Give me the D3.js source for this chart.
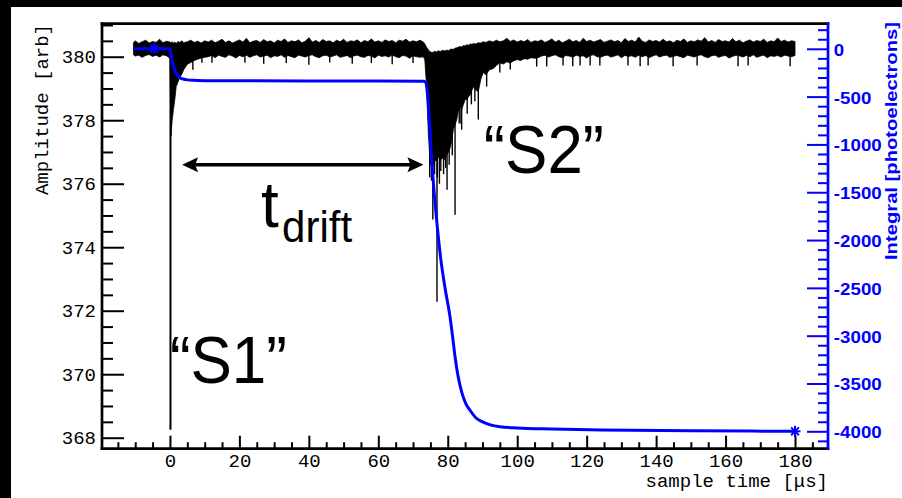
<!DOCTYPE html>
<html>
<head>
<meta charset="utf-8">
<script src="https://cdn.jsdelivr.net/npm/d3@7"></script>
<style>
  body { margin: 0; background: #000; }
  svg { display: block; }
</style>
</head>
<body>
<div id="chart"></div>
<script>
// ---- waveform envelope (time in us, amplitude in arb) ----
const waveT = [
  -10.5, -10, -9, -8, -7, -6, -5, -4, -3, -2, -1, 0,
  0.3, 0.6, 1.0, 1.4, 1.8, 2.3, 2.8, 3.4, 4, 5, 6, 7, 8, 9, 10,
  11, 12, 13, 14, 15, 16, 17, 18, 19, 20,
  21, 22, 23, 24, 25, 26, 27, 28, 29, 30,
  31, 32, 33, 34, 35, 36, 37, 38, 39, 40,
  41, 42, 43, 44, 45, 46, 47, 48, 49, 50,
  51, 52, 53, 54, 55, 56, 57, 58, 59, 60,
  61, 62, 63, 64, 65, 66, 67, 68, 69, 70,
  71, 72,
  73, 73.4, 73.9, 74.4, 74.9, 75.4, 75.8, 76.3, 76.8, 77.3,
  77.8, 78.5, 79.2, 79.7, 80.2, 80.6, 81.1, 81.6, 82.1, 82.6,
  83.0, 83.5, 84.0, 84.5, 85.0, 85.5, 86.0, 86.5, 87.0, 87.5,
  88.0, 88.8, 89.5, 90.2, 91, 92, 93, 94, 95, 96,
  97, 98, 99, 100, 101, 102, 103, 104, 105,
  106, 107, 108, 109, 110, 111, 112, 113, 114, 115,
  116, 117, 118, 119, 120, 121, 122, 123, 124, 125,
  126, 127, 128, 129, 130, 131, 132, 133, 134, 135,
  136, 137, 138, 139, 140, 141, 142, 143, 144, 145,
  146, 147, 148, 149, 150, 151, 152, 153, 154, 155,
  156, 157, 158, 159, 160, 161, 162, 163, 164, 165,
  166, 167, 168, 169, 170, 171, 172, 173, 174, 175,
  176, 177, 178, 179, 180
];
const waveHi = [
  380.44, 380.50, 380.42, 380.47, 380.52, 380.43, 380.48, 380.45, 380.55, 380.44, 380.49, 380.46,
  380.44, 380.47, 380.43, 380.46, 380.42, 380.48, 380.45, 380.50, 380.44, 380.47, 380.52, 380.45, 380.49, 380.43, 380.50,
  380.46, 380.52, 380.44, 380.49, 380.55, 380.45, 380.50, 380.43, 380.48, 380.53,
  380.46, 380.58, 380.44, 380.49, 380.51, 380.45, 380.54, 380.47, 380.50, 380.43,
  380.52, 380.48, 380.56, 380.45, 380.50, 380.47, 380.53, 380.44, 380.49, 380.60,
  380.46, 380.51, 380.45, 380.54, 380.48, 380.50, 380.44, 380.52, 380.47, 380.55,
  380.45, 380.50, 380.48, 380.53, 380.44, 380.51, 380.47, 380.56, 380.46, 380.50,
  380.45, 380.53, 380.48, 380.51, 380.44, 380.52, 380.49, 380.55, 380.46, 380.50,
  380.47, 380.52,
  380.46, 380.40, 380.30, 380.22, 380.16, 380.13, 380.14, 380.17, 380.15, 380.19,
  380.16, 380.20, 380.18, 380.21, 380.19, 380.22, 380.24, 380.23, 380.27, 380.28,
  380.30, 380.32, 380.31, 380.35, 380.34, 380.38, 380.36, 380.40, 380.39, 380.42,
  380.40, 380.44, 380.43, 380.47, 380.45, 380.50, 380.46, 380.52, 380.47, 380.50,
  380.58, 380.48, 380.53, 380.46, 380.51, 380.47, 380.54, 380.45, 380.50,
  380.48, 380.53, 380.45, 380.50, 380.56, 380.46, 380.52, 380.44, 380.49, 380.55,
  380.47, 380.51, 380.45, 380.58, 380.48, 380.52, 380.46, 380.50, 380.54, 380.45,
  380.49, 380.53, 380.47, 380.51, 380.44, 380.57, 380.48, 380.52, 380.46, 380.62,
  380.49, 380.45, 380.53, 380.48, 380.51, 380.46, 380.55, 380.47, 380.50, 380.44,
  380.52, 380.48, 380.56, 380.45, 380.50, 380.47, 380.53, 380.49, 380.60, 380.46,
  380.51, 380.45, 380.54, 380.48, 380.50, 380.46, 380.57, 380.47, 380.52, 380.44,
  380.49, 380.53, 380.46, 380.51, 380.48, 380.55, 380.45, 380.50, 380.47, 380.59,
  380.48, 380.52, 380.46, 380.50, 380.48
];
const waveLo = [
  380.06, 380.02, 380.05, 379.98, 380.04, 380.07, 380.01, 380.05, 379.99, 380.06, 380.03, 379.95,
  377.50, 377.95, 378.33, 378.65, 379.06, 379.20, 379.34, 379.45, 379.60, 379.76, 379.82, 379.88, 379.92, 379.96, 379.98,
  380.00, 380.04, 379.97, 380.05, 380.01, 379.98, 380.06, 380.02, 379.96, 380.04,
  380.00, 380.05, 379.98, 380.03, 380.06, 379.99, 380.02, 380.05, 379.97, 380.03,
  380.01, 380.06, 379.98, 380.04, 380.00, 379.97, 380.05, 380.02, 379.99, 380.04,
  380.06, 380.00, 379.97, 380.03, 380.05, 379.99, 380.02, 380.06, 379.98, 380.01,
  380.04, 379.97, 380.03, 380.05, 380.00, 379.98, 380.04, 380.02, 379.96, 380.05,
  380.01, 380.03, 379.99, 380.06, 380.00, 379.97, 380.04, 380.02, 379.95, 380.03,
  380.00, 379.98,
  380.00, 379.90, 379.06, 377.60, 376.70, 376.50, 376.60, 376.75, 376.70, 376.85,
  376.75, 376.80, 376.75, 376.90, 377.00, 377.10, 377.32, 377.70, 377.86, 378.02,
  378.27, 378.43, 378.33, 378.49, 378.65, 378.65, 378.74, 378.80, 378.96, 379.06,
  378.96, 378.90, 379.28, 379.50, 379.43, 379.59, 379.62, 379.72, 379.81, 379.77,
  379.84, 379.80, 379.87, 379.91, 379.88, 379.94, 379.92, 379.97, 379.95,
  379.97, 380.02, 380.05, 379.99, 380.03, 380.06, 380.00, 379.97, 380.04, 380.02,
  379.98, 380.05, 380.01, 380.03, 379.96, 380.04, 380.06, 380.00, 379.98, 380.03,
  380.05, 379.99, 380.02, 380.06, 379.97, 380.04, 380.01, 380.03, 379.98, 380.05,
  380.00, 380.04, 379.97, 380.02, 380.06, 379.99, 380.03, 380.05, 379.98, 380.01,
  380.04, 380.00, 379.97, 380.05, 380.02, 379.99, 380.04, 380.06, 380.00, 379.97,
  380.03, 380.05, 379.98, 380.02, 380.04, 379.96, 380.01, 380.05, 380.03, 379.99,
  380.04, 380.00, 380.06, 379.98, 380.02, 380.05, 379.97, 380.03, 380.01, 380.04,
  379.99, 380.05, 380.02, 380.00, 380.04
];

// single-sample spikes that reach below the envelope
const spikeT = [0.15, 3.7, 6.6, 9.2, 12.1, 21.6, 27, 33.5, 40, 46, 52.5, 58, 64, 70,
  74.8, 75.3, 75.7, 76.2, 76.9, 77.0, 77.6, 78.0, 78.8, 79.4, 79.8, 80.4, 81.3, 82.1,
  83.3, 83.8, 84.0, 85.6, 86.8, 87.8, 88.8, 91.2, 95.0, 98.0, 105.6, 108.5,
  113.2, 116, 118.1, 121, 123.8, 131.9, 135.4, 137.7, 144.9, 151.8, 163.6, 166.5, 178.6];
const spikeMin = [368.25, 379.69, 379.59, 379.81, 379.81, 379.81, 379.78, 379.80, 379.75, 379.82, 379.78, 379.80, 379.76, 379.80,
  376.2, 376.1, 374.87, 376.3, 372.28, 376.2, 376.0, 376.4, 376.3, 376.5, 375.81, 376.6, 376.9, 375.02,
  377.9, 377.9, 377.70, 378.2, 378.5, 378.6, 378.02, 379.06, 379.5, 379.6, 379.69, 379.69,
  379.72, 379.7, 379.72, 379.72, 379.72, 379.72, 379.70, 379.72, 379.70, 379.72, 379.70, 379.72, 379.70];

// running integral (photoelectrons)
const integT = [-10.5, 0, 0.3, 0.6, 1.0, 1.4, 2.0, 3.0, 4.0, 5.0, 6.6, 10, 20, 40, 60, 73,
  73.5, 74.0, 74.4, 74.7, 75.2, 75.8, 76.8, 78, 79.3, 80.6, 81.4, 82.1, 83, 84.1, 85.2, 86.4,
  88, 90.2, 92.5, 95, 100, 110, 124, 150, 180];
const integV = [0, 0, -60, -120, -180, -225, -270, -305, -318, -325, -330, -333, -335, -336, -338, -340,
  -345, -420, -580, -750, -1060, -1370, -1790, -2200, -2520, -2790, -3010, -3220, -3430, -3600, -3710, -3780,
  -3855, -3905, -3935, -3952, -3965, -3976, -3986, -3994, -4000];
const starT = [-4.6, 180];
const starV = [0, -4000];

// axis ticks
const xMajor = [0, 20, 40, 60, 80, 100, 120, 140, 160, 180];
const xMinor = [-15, -10, -5, 5, 10, 15, 25, 30, 35, 45, 50, 55, 65, 70, 75, 85, 90, 95,
  105, 110, 115, 125, 130, 135, 145, 150, 155, 165, 170, 175, 185];
const yMajor = [368, 370, 372, 374, 376, 378, 380];
const yMinor = [368.5, 369, 369.5, 370.5, 371, 371.5, 372.5, 373, 373.5, 374.5, 375, 375.5,
  376.5, 377, 377.5, 378.5, 379, 379.5, 380.5, 381];
const rMajor = [0, -500, -1000, -1500, -2000, -2500, -3000, -3500, -4000];
const rMinor = [200, 100, -100, -200, -300, -400, -600, -700, -800, -900, -1100, -1200, -1300, -1400,
  -1600, -1700, -1800, -1900, -2100, -2200, -2300, -2400, -2600, -2700, -2800, -2900,
  -3100, -3200, -3300, -3400, -3600, -3700, -3800, -3900, -4100];

const W = 902, H = 498;
const mono = "'Liberation Mono', 'Courier New', monospace";
const sans = "'Liberation Sans', Arial, Helvetica, sans-serif";
const blue = "#0000ff";
const plain = d => String(d);   // hyphen minus like the original

const svg = d3.select("#chart").append("svg")
  .attr("width", W)
  .attr("height", H);

// white canvas, black strip left and top
svg.append("rect")
  .attr("x", 11).attr("y", 7)
  .attr("width", W - 11).attr("height", H - 7)
  .attr("fill", "#fff");

const x = d3.scaleLinear().domain([-20, 189.5]).range([100.5, 828]);
const y = d3.scaleLinear().domain([367.654, 381.04]).range([448.7, 23.7]);
const y2 = d3.scaleLinear().domain([-4182, 262.5]).range([448.7, 23.7]);

// waveform envelope
const wave = waveT.map((t, i) => ({ t, hi: waveHi[i], lo: waveLo[i] }));
svg.append("path")
  .datum(wave)
  .attr("d", d3.area()
    .defined(d => d.hi != null && d.lo != null)
    .x(d => x(d.t))
    .y0(d => y(d.lo))
    .y1(d => y(d.hi)))
  .attr("fill", "#000")
  .attr("stroke", "#000")
  .attr("stroke-width", 0.8);

// spikes
svg.append("g")
  .selectAll("line")
  .data(spikeT.map((t, i) => ({ t, v: spikeMin[i] })))
  .join("line")
  .attr("x1", d => x(d.t)).attr("x2", d => x(d.t))
  .attr("y1", y(380.1)).attr("y2", d => y(d.v))
  .attr("stroke", "#000")
  .attr("stroke-width", (d, i) => i === 0 ? 2 : 1.4);

// integral curve
svg.append("path")
  .datum(integT.map((t, i) => ({ t, v: integV[i] })))
  .attr("d", d3.line().curve(d3.curveMonotoneX).x(d => x(d.t)).y(d => y2(d.v)))
  .attr("fill", "none")
  .attr("stroke", blue)
  .attr("stroke-width", 3);

// asterisk markers
const star = svg.append("g").selectAll("g")
  .data(starT.map((t, i) => ({ t, v: starV[i] })))
  .join("g")
  .attr("transform", d => `translate(${x(d.t)},${y2(d.v)})`);
[0, 45, 90, 135].forEach(a => {
  star.append("line")
    .attr("x1", -5.5).attr("x2", 5.5)
    .attr("transform", `rotate(${a})`)
    .attr("stroke", blue).attr("stroke-width", 2);
});

// axes
function style(g, color, font, size, weight) {
  g.select(".domain").remove();
  g.selectAll("line").attr("stroke", color).attr("stroke-width", 2);
  g.selectAll("text")
    .attr("fill", color)
    .style("font-family", font)
    .style("font-size", size + "px")
    .style("font-weight", weight);
}

svg.append("g").attr("transform", "translate(102,0)")
  .call(d3.axisLeft(y).tickValues(yMinor).tickSize(-11).tickFormat(""))
  .call(g => style(g, "#000", mono, 19, "normal"));
svg.append("g").attr("transform", "translate(102,0)")
  .call(d3.axisLeft(y).tickValues(yMajor).tickSize(-22).tickPadding(6).tickFormat(plain))
  .call(g => style(g, "#000", mono, 19, "normal"));

svg.append("g").attr("transform", "translate(0,448.7)")
  .call(d3.axisBottom(x).tickValues(xMinor).tickSize(-6.5).tickFormat(""))
  .call(g => style(g, "#000", mono, 19, "normal"));
svg.append("g").attr("transform", "translate(0,448.7)")
  .call(d3.axisBottom(x).tickValues(xMajor).tickSize(-13).tickPadding(5).tickFormat(plain))
  .call(g => style(g, "#000", mono, 19, "normal"));

svg.append("g").attr("transform", "translate(828,0)")
  .call(d3.axisRight(y2).tickValues(rMinor).tickSize(-10).tickFormat(""))
  .call(g => style(g, blue, sans, 16, "bold"));
svg.append("g").attr("transform", "translate(828,0)")
  .call(d3.axisRight(y2).tickValues(rMajor).tickSize(-21).tickPadding(5).tickFormat(plain))
  .call(g => style(g, blue, sans, 16, "bold"))
  .call(g => g.selectAll("text").attr("dy", "0.4em").attr("transform", "scale(1.17,1)"));

// frame
const frame = svg.append("g").attr("stroke-linecap", "square");
frame.append("line").attr("x1", 102).attr("x2", 828).attr("y1", 23.7).attr("y2", 23.7)
  .attr("stroke", "#000").attr("stroke-width", 2.7);
frame.append("line").attr("x1", 102).attr("x2", 102).attr("y1", 23.7).attr("y2", 448.7)
  .attr("stroke", "#000").attr("stroke-width", 2.7);
frame.append("line").attr("x1", 102).attr("x2", 828).attr("y1", 448.7).attr("y2", 448.7)
  .attr("stroke", "#000").attr("stroke-width", 2.7);
frame.append("line").attr("x1", 828).attr("x2", 828).attr("y1", 23.7).attr("y2", 448.7)
  .attr("stroke", blue).attr("stroke-width", 2.7);

// axis titles
svg.append("text")
  .attr("transform", "translate(47.5,24) rotate(-90)")
  .attr("text-anchor", "end")
  .style("font-family", mono).style("font-size", "19px")
  .text("Amplitude [arb]");
svg.append("text")
  .attr("x", 828).attr("y", 487)
  .attr("text-anchor", "end")
  .style("font-family", mono).style("font-size", "19px")
  .text("sample time [\u03bcs]");
svg.append("text")
  .attr("transform", "translate(897,260) rotate(-90)")
  .attr("textLength", 238).attr("lengthAdjust", "spacingAndGlyphs")
  .attr("fill", blue)
  .style("font-family", sans).style("font-size", "17px").style("font-weight", "bold")
  .text("Integral [photoelectrons]");

// annotations
const arrowT = [3.5, 73], arrowY = 376.6;
const ax0 = x(arrowT[0]), ax1 = x(arrowT[1]), ay = y(arrowY);
svg.append("line")
  .attr("x1", ax0 + 10).attr("x2", ax1 - 10).attr("y1", ay).attr("y2", ay)
  .attr("stroke", "#000").attr("stroke-width", 3.5);
svg.append("path")
  .attr("d", `M${ax0},${ay} L${ax0 + 16},${ay - 7.5} L${ax0 + 13},${ay} L${ax0 + 16},${ay + 7.5} Z`
    + ` M${ax1},${ay} L${ax1 - 16},${ay - 7.5} L${ax1 - 13},${ay} L${ax1 - 16},${ay + 7.5} Z`)
  .attr("fill", "#000");

svg.append("text")
  .attr("x", x(0)).attr("y", y(369.72))
  .attr("textLength", 117).attr("lengthAdjust", "spacingAndGlyphs")
  .style("font-family", sans).style("font-size", "67px")
  .text("\u201cS1\u201d");
svg.append("text")
  .attr("x", x(90.4)).attr("y", y(376.34))
  .attr("textLength", 120).attr("lengthAdjust", "spacingAndGlyphs")
  .style("font-family", sans).style("font-size", "69px")
  .text("\u201cS2\u201d");
svg.append("text")
  .attr("x", x(26.2)).attr("y", y(374.64))
  .style("font-family", sans).style("font-size", "64px")
  .text("t");
svg.append("text")
  .attr("x", x(32.3)).attr("y", y(374.16))
  .attr("textLength", 70).attr("lengthAdjust", "spacingAndGlyphs")
  .style("font-family", sans).style("font-size", "44px")
  .text("drift");
</script>
</body>
</html>
